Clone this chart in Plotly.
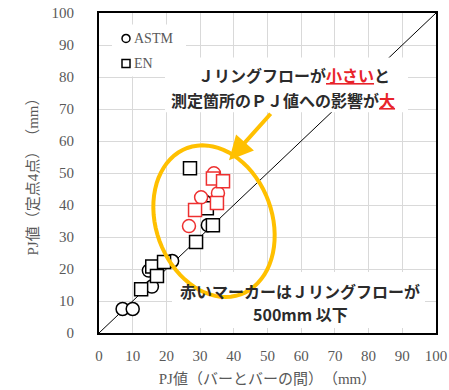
import numpy as np
import plotly.graph_objects as go

# PJ values (mm): x = between bars, y = four fixed points
astm_x = [7.0, 10.0, 15.7, 14.8, 21.7, 32.3, 31.5]
astm_y = [7.5, 7.5, 14.5, 19.5, 22.5, 33.7, 41.0]
en_x = [12.5, 15.8, 17.2, 19.3, 28.8, 27.0, 32.0, 33.8]
en_y = [13.7, 20.8, 17.8, 22.2, 28.4, 51.5, 39.0, 33.7]
# J-ring flow of 500 mm or less (red)
astm_low_x = [34.1, 30.3, 35.3, 26.7]
astm_low_y = [49.9, 42.4, 43.7, 33.4]
en_low_x = [33.8, 36.8, 35.0, 28.5]
en_low_y = [48.3, 47.4, 40.6, 38.4]

ticks = list(range(0, 101, 10))

W_FIG, H_FIG = 449, 390
L, R, T, B = 99, 13, 12.5, 57
PW, PH = W_FIG - L - R, H_FIG - T - B

def px(x):
    return (x - L) / PW * 100

def py(y):
    return (T + PH - y) / PH * 100

BLACK = "#000000"
RED = "#ee3030"
GOLD = "#ffc000"
GRAY = "#595959"
TXT = "#2b2b2b"
SERIF = "Liberation Serif, Noto Sans CJK JP, serif"
GOTHIC = "Noto Sans CJK JP, sans-serif"

fig = go.Figure()

# 1:1 reference line
fig.add_trace(go.Scatter(x=[0, 100], y=[0, 100], mode="lines",
                         line=dict(color=BLACK, width=1), showlegend=False,
                         hoverinfo="skip"))

def pts(x, y, symbol, color, name):
    fig.add_trace(go.Scatter(
        x=x, y=y, mode="markers", name=name, showlegend=False,
        marker=dict(symbol=symbol, size=13, color="white",
                    line=dict(color=color, width=1.5))))

pts(astm_x, astm_y, "circle", BLACK, "ASTM")
pts(en_x, en_y, "square", BLACK, "EN")
pts(astm_low_x, astm_low_y, "circle", RED, "ASTM ≤500mm")
pts(en_low_x, en_low_y, "square", RED, "EN ≤500mm")

shapes = []

def white_box(x0, y0, x1, y1):
    shapes.append(dict(type="rect", xref="x", yref="y", layer="above",
                       x0=px(x0), x1=px(x1), y0=py(y0), y1=py(y1),
                       fillcolor="white", line=dict(width=0)))

white_box(112, 24, 186, 76)
white_box(165, 57, 408, 112)
white_box(172, 272, 425, 328)

# highlight ellipse (tilted), built in screen space then mapped to data
t = np.linspace(0, 2 * np.pi, 73)
cx, cy, a, b, th = 214, 221, 78, 58, np.deg2rad(20)
ex = cx + a * np.cos(t) * np.sin(th) + b * np.sin(t) * np.cos(th)
ey = cy + a * np.cos(t) * np.cos(th) - b * np.sin(t) * np.sin(th)
path = "M " + " L ".join(f"{px(u):.3f},{py(v):.3f}" for u, v in zip(ex, ey)) + " Z"
shapes.append(dict(type="path", xref="x", yref="y", layer="above", path=path,
                   line=dict(color=GOLD, width=4)))

# legend symbols
shapes.append(dict(type="circle", xref="x", yref="y", layer="above",
                   x0=px(122), x1=px(130), y0=py(34), y1=py(42),
                   line=dict(color=BLACK, width=1.5), fillcolor="white"))
shapes.append(dict(type="rect", xref="x", yref="y", layer="above",
                   x0=px(122), x1=px(130), y0=py(59), y1=py(67),
                   line=dict(color=BLACK, width=1.5), fillcolor="white"))

annotations = [
    dict(x=px(132), y=py(38.5), text="ASTM", showarrow=False, xanchor="left",
         font=dict(family=SERIF, size=14, color=GRAY)),
    dict(x=px(132), y=py(63.5), text="EN", showarrow=False, xanchor="left",
         font=dict(family=SERIF, size=14, color=GRAY)),
    dict(x=px(294), y=py(75), showarrow=False,
         text="Ｊリングフローが<span style='color:#e8232a'><u>小さい</u></span>と",
         font=dict(family=GOTHIC, size=16, color=TXT, weight="bold")),
    dict(x=px(283), y=py(100), showarrow=False,
         text="測定箇所のＰＪ値への影響が<span style='color:#e8232a'><u>大</u></span>",
         font=dict(family=GOTHIC, size=16, color=TXT, weight="bold")),
    dict(x=px(300), y=py(291), showarrow=False,
         text="赤いマーカーはＪリングフローが",
         font=dict(family=GOTHIC, size=16, color=TXT, weight="bold")),
    dict(x=px(300), y=py(314), showarrow=False,
         text="500mm 以下",
         font=dict(family=GOTHIC, size=16, color=TXT, weight="bold")),
    dict(x=px(229), y=py(160), ax=43, ay=-48, text="", showarrow=True,
         arrowhead=2, arrowsize=1.2, arrowwidth=4, arrowcolor=GOLD,
         xref="x", yref="y", axref="pixel", ayref="pixel"),
]

axis_common = dict(range=[0, 100], tickvals=ticks, ticktext=[str(v) for v in ticks],
                   showgrid=True, gridcolor="#d9d9d9", gridwidth=1,
                   zeroline=False, showline=True, linecolor=BLACK, linewidth=2,
                   mirror=True, ticks="", fixedrange=True, automargin=False,
                   tickfont=dict(family=SERIF, size=15, color=GRAY))

fig.update_layout(
    width=W_FIG, height=H_FIG,
    margin=dict(l=L, r=R, t=T, b=B),
    paper_bgcolor="white", plot_bgcolor="white",
    showlegend=False,
    xaxis=dict(**axis_common, ticklabelstandoff=8,
               title=dict(text="PJ値（バーとバーの間）　（mm）", standoff=10,
                          font=dict(family=SERIF, size=15, color=GRAY))),
    yaxis=dict(**axis_common, ticklabelstandoff=20,
               title=dict(text="PJ値（定点4点）　（mm）", standoff=9,
                          font=dict(family=SERIF, size=15, color=GRAY))),
    shapes=shapes,
    annotations=annotations,
)

fig.write_html("out.html")
